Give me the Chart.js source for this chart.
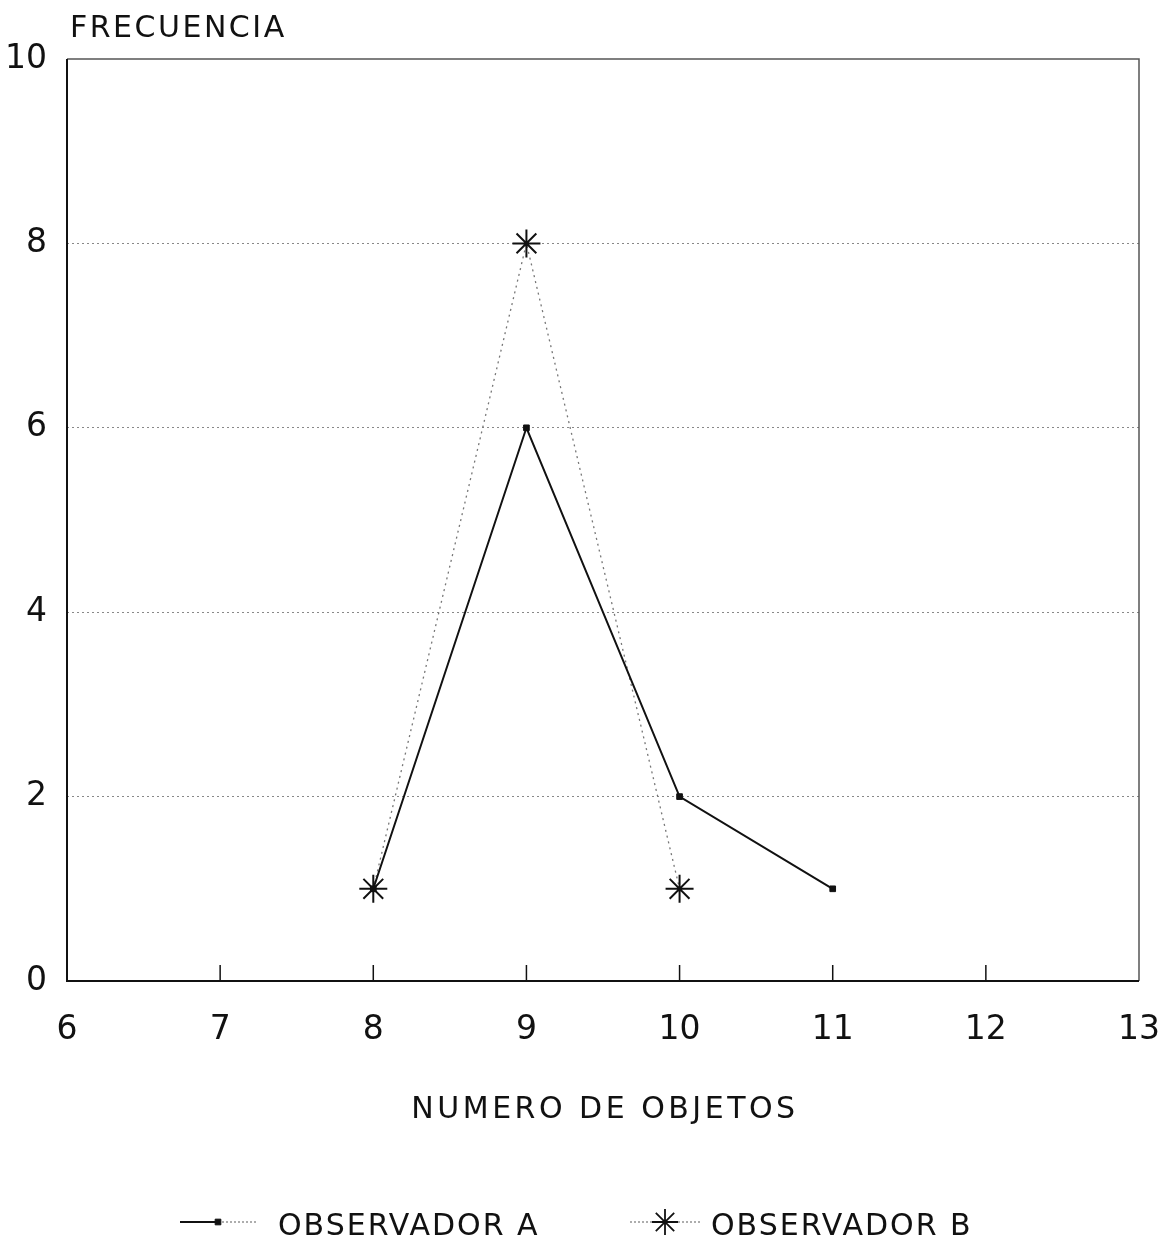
<!DOCTYPE html>
<html>
<head>
<meta charset="utf-8">
<script src="https://cdn.jsdelivr.net/npm/chart.js@4.4.1/dist/chart.umd.min.js"></script>
<style>
html,body{margin:0;padding:0;background:#fff;}
#wrap{width:1173px;height:1238px;}
</style>
</head>
<body>
<div id="wrap"><canvas id="c" width="1173" height="1238"></canvas></div>
<script>
// Data
const seriesNames = ["OBSERVADOR A", "OBSERVADOR B"];
const xA = [8, 9, 10, 11];
const yA = [1, 6, 2, 1];
const xB = [8, 9, 10];
const yB = [1, 8, 1];
const xTicks = [6, 7, 8, 9, 10, 11, 12, 13];
const yTicks = [0, 2, 4, 6, 8, 10];
const yTitle = "FRECUENCIA";
const xTitle = "NUMERO DE OBJETOS";

const FONT = "'DejaVu Sans', sans-serif";

const ptsA = xA.map((x, i) => ({x: x, y: yA[i]}));
const ptsB = xB.map((x, i) => ({x: x, y: yB[i]}));

const decor = {
  id: 'decor',
  afterDraw(chart) {
    const ctx = chart.ctx;
    const a = chart.chartArea;
    const xs = chart.scales.x;
    ctx.save();
    ctx.strokeStyle = '#555';
    ctx.lineWidth = 1.5;
    ctx.beginPath();
    ctx.moveTo(a.left, a.top); ctx.lineTo(a.right, a.top); ctx.lineTo(a.right, a.bottom);
    ctx.stroke();
    ctx.strokeStyle = '#111';
    ctx.lineWidth = 2;
    ctx.beginPath();
    ctx.moveTo(a.left, a.top); ctx.lineTo(a.left, a.bottom); ctx.lineTo(a.right, a.bottom);
    ctx.stroke();
    ctx.lineWidth = 1.5;
    xTicks.forEach(v => {
      if (v === xTicks[0] || v === xTicks[xTicks.length - 1]) return;
      const px = xs.getPixelForValue(v);
      ctx.beginPath(); ctx.moveTo(px, a.bottom); ctx.lineTo(px, a.bottom - 16); ctx.stroke();
    });
    ctx.fillStyle = '#111';
    ctx.font = "30px " + FONT;
    ctx.textBaseline = 'alphabetic';
    ctx.textAlign = 'left';
    ctx.letterSpacing = '2.5px';
    ctx.fillText(yTitle, 70, 37);
    ctx.letterSpacing = '3.5px';
    ctx.textAlign = 'left';
    const tw = ctx.measureText(xTitle).width;
    ctx.fillText(xTitle, 605 - tw / 2, 1118);
    const ly = 1222;
    const ds = chart.data.datasets;
    ctx.letterSpacing = '2px';
    // A
    ctx.strokeStyle = '#111'; ctx.lineWidth = 2; ctx.setLineDash([]);
    ctx.beginPath(); ctx.moveTo(180, ly); ctx.lineTo(218, ly); ctx.stroke();
    ctx.strokeStyle = '#777'; ctx.lineWidth = 1.2; ctx.setLineDash([2, 2]);
    ctx.beginPath(); ctx.moveTo(218, ly); ctx.lineTo(256, ly); ctx.stroke();
    ctx.setLineDash([]);
    ctx.fillStyle = '#111'; ctx.strokeStyle = '#111'; ctx.lineWidth = 1;
    Chart.helpers.drawPoint(ctx, {pointStyle: 'rect', radius: 4, rotation: 0, borderWidth: 1}, 218, ly);
    ctx.fillStyle = '#111';
    ctx.fillText(ds[0].label, 278, ly + 13);
    // B
    ctx.strokeStyle = '#777'; ctx.lineWidth = 1.2; ctx.setLineDash([2, 2]);
    ctx.beginPath(); ctx.moveTo(630, ly); ctx.lineTo(700, ly); ctx.stroke();
    ctx.setLineDash([]);
    ctx.strokeStyle = '#111'; ctx.lineWidth = 1.8;
    Chart.helpers.drawPoint(ctx, {pointStyle: 'star', radius: 13, rotation: 0, borderWidth: 1.8}, 665, ly);
    ctx.fillStyle = '#111';
    ctx.fillText(ds[1].label, 711, ly + 13);
    ctx.restore();
  }
};

new Chart(document.getElementById('c'), {
  type: 'scatter',
  data: {
    datasets: [
      {
        label: seriesNames[0],
        data: ptsA,
        showLine: true,
        borderColor: '#111',
        backgroundColor: '#111',
        borderWidth: 2,
        pointStyle: 'rect',
        pointRadius: 4,
        pointBorderWidth: 1,
        pointBackgroundColor: '#111',
        pointBorderColor: '#111'
      },
      {
        label: seriesNames[1],
        data: ptsB,
        showLine: true,
        borderColor: '#777',
        borderWidth: 1.3,
        borderDash: [2, 4],
        pointStyle: 'star',
        pointRadius: 14,
        pointBorderWidth: 2,
        pointBorderColor: '#111',
        pointBackgroundColor: '#111'
      }
    ]
  },
  options: {
    responsive: false,
    animation: false,
    devicePixelRatio: 1,
    layout: {padding: {top: 59, right: 34, left: 0, bottom: 0}},
    plugins: {legend: {display: false}, tooltip: {enabled: false}},
    scales: {
      x: {
        type: 'linear',
        min: xTicks[0], max: xTicks[xTicks.length - 1],
        afterBuildTicks: s => { s.ticks = xTicks.map(v => ({value: v})); },
        afterFit: s => { s.height = 257; s.paddingLeft = 0; s.paddingRight = 0; },
        grid: {display: false, drawTicks: false},
        border: {display: false},
        ticks: {
          padding: 30,
          color: '#111',
          font: {family: FONT, size: 33},
          maxRotation: 0, autoSkip: false
        }
      },
      y: {
        min: yTicks[0], max: yTicks[yTicks.length - 1],
        afterBuildTicks: s => { s.ticks = yTicks.map(v => ({value: v})); },
        afterFit: s => { s.width = 67; s.paddingTop = 0; s.paddingBottom = 0; },
        grid: {
          drawTicks: false,
          color: ctx => (ctx.tick && (ctx.tick.value === 0 || ctx.tick.value === 10)) ? 'rgba(0,0,0,0)' : '#888',
          lineWidth: 1
        },
        border: {display: false, dash: [2, 3]},
        ticks: {
          padding: 20,
          color: '#111',
          font: {family: FONT, size: 33}
        }
      }
    }
  },
  plugins: [decor]
});
</script>
</body>
</html>
